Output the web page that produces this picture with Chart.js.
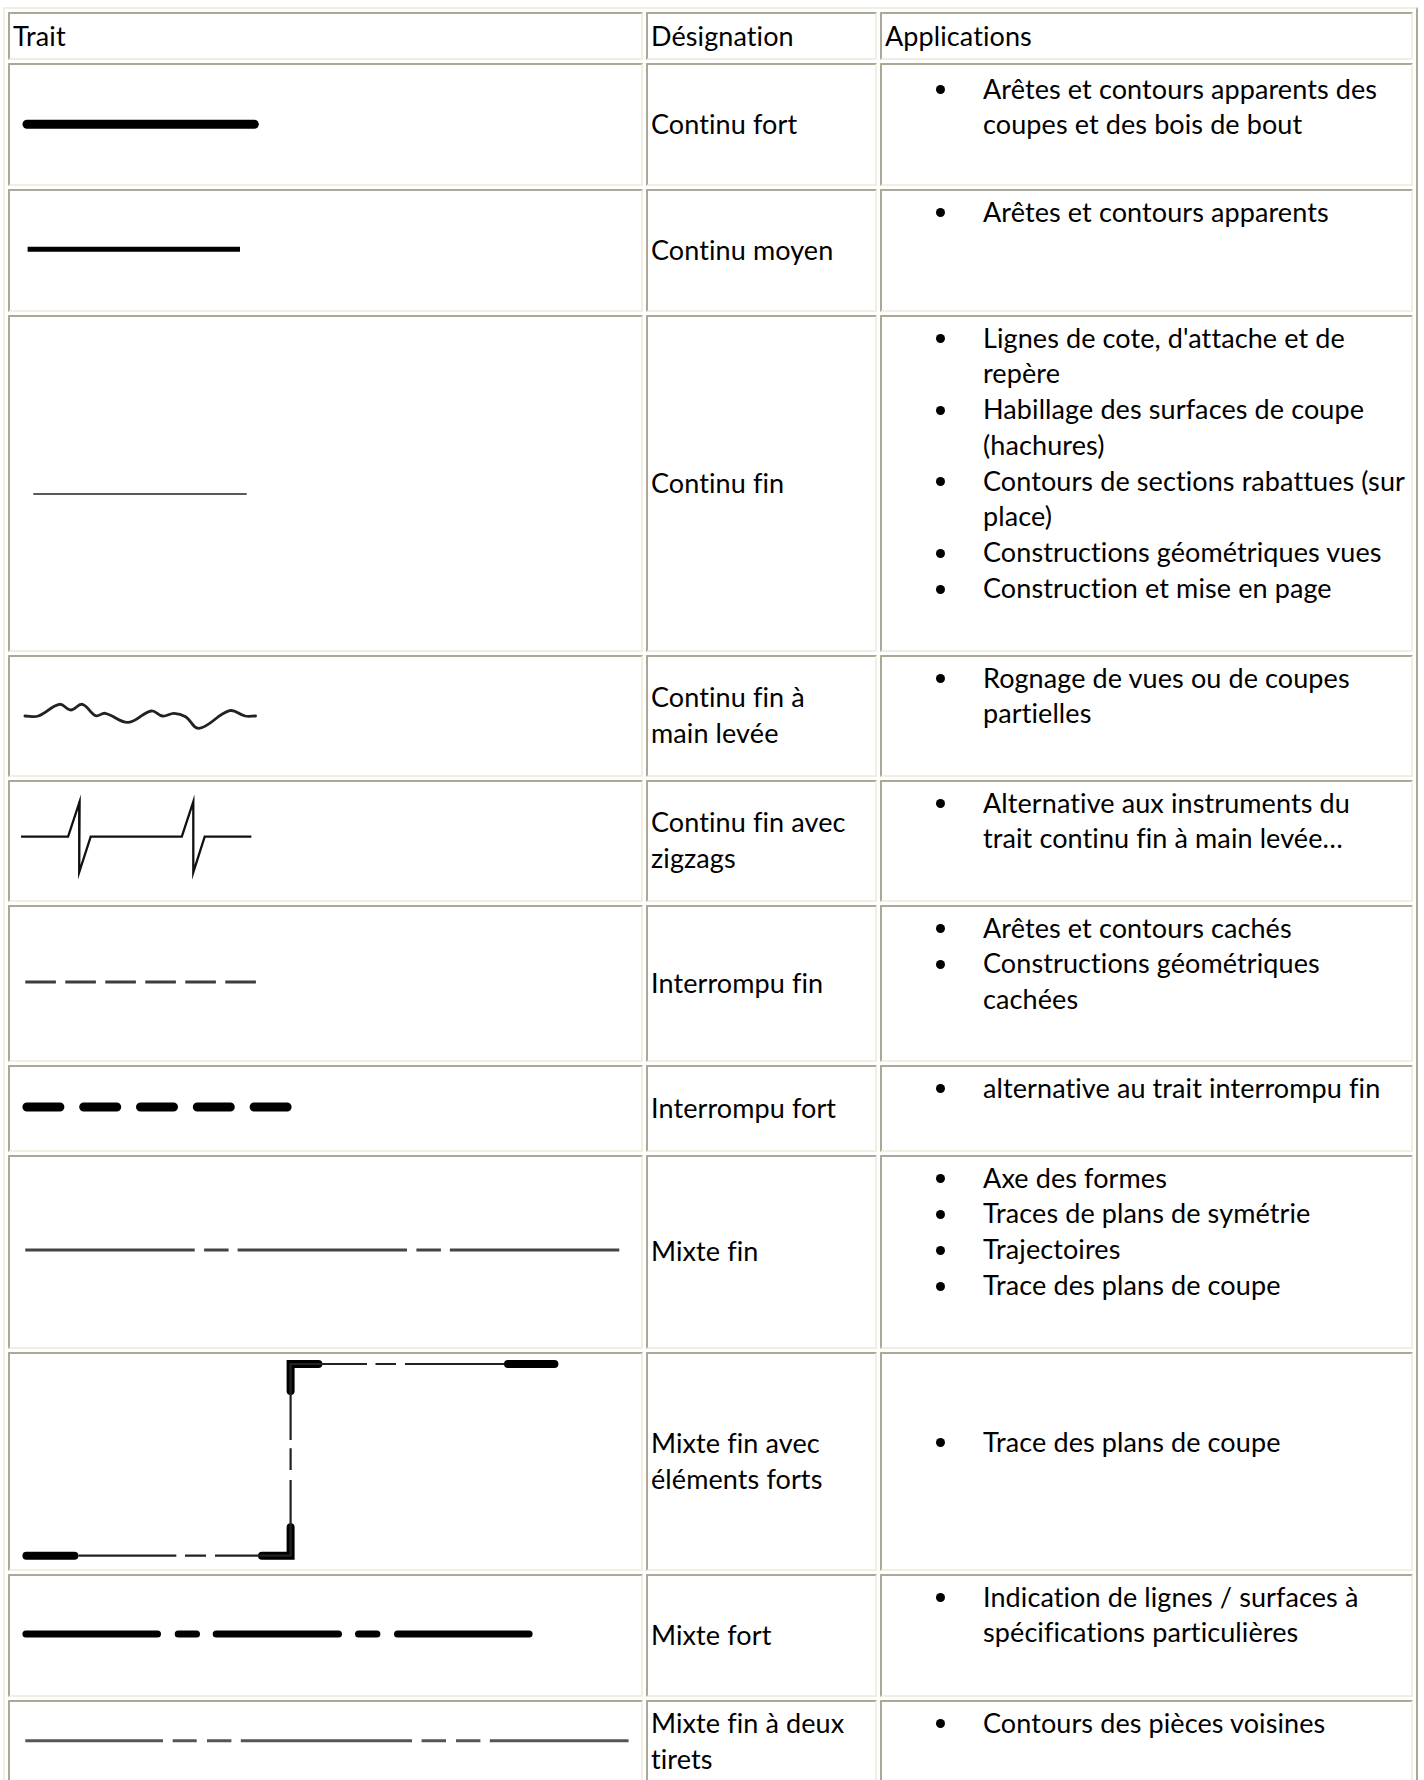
<!DOCTYPE html>
<html lang="fr">
<head>
<meta charset="utf-8">
<title>Types de traits</title>
<script src="https://cdn.jsdelivr.net/npm/chart.js@4.4.1/dist/chart.umd.min.js"></script>
<style>
  body {
    margin: 0;
    background: #fff;
    font-family: Lato, "Open Sans", sans-serif;
    font-size: 27px;
    letter-spacing: 0.1px;
    line-height: 35.8px;
    color: #000;
  }
  table {
    position: absolute;
    left: 3px;
    top: 7px;
    width: 1415px;
    table-layout: fixed;
    border-collapse: separate;
    border-spacing: 3px;
    border: 2px solid;
    border-color: #f1efe2 #aca899 #aca899 #f1efe2;
  }
  td {
    box-sizing: border-box;
    border: 2px solid;
    border-color: #aca899 #f1efe2 #f1efe2 #aca899;
    padding: 0 3px 2px 3px;
    vertical-align: middle;
    white-space: pre;
  }
  td.trait {
    padding: 0;
    position: relative;
  }
  td.trait .box {
    position: absolute;
    left: 0;
    top: 0;
    right: 0;
    bottom: 0;
  }
  td.app {
    vertical-align: top;
    padding-top: 2.5px;
  }
  ul {
    margin: 0;
    padding: 0 0 0 98px;
    list-style: none;
  }
  li {
    position: relative;
  }
  li::before {
    content: "";
    position: absolute;
    left: -47px;
    top: 14.8px;
    width: 9px;
    height: 9px;
    border-radius: 50%;
    background: #000;
  }
</style>
</head>
<body>
<table id="tbl"></table>
<script>
// ---- texte du tableau ----
const headers = ["Trait", "Désignation", "Applications"];
const designations = [
  "Continu fort",
  "Continu moyen",
  "Continu fin",
  "Continu fin à\nmain levée",
  "Continu fin avec\nzigzags",
  "Interrompu fin",
  "Interrompu fort",
  "Mixte fin",
  "Mixte fin avec\néléments forts",
  "Mixte fort",
  "Mixte fin à deux\ntirets",
];
const applications = [
  ["Arêtes et contours apparents des\ncoupes et des bois de bout"],
  ["Arêtes et contours apparents"],
  [
    "Lignes de cote, d'attache et de\nrepère",
    "Habillage des surfaces de coupe\n(hachures)",
    "Contours de sections rabattues (sur\nplace)",
    "Constructions géométriques vues",
    "Construction et mise en page",
  ],
  ["Rognage de vues ou de coupes\npartielles"],
  ["Alternative aux instruments du\ntrait continu fin à main levée…"],
  ["Arêtes et contours cachés", "Constructions géométriques\ncachées"],
  ["alternative au trait interrompu fin"],
  ["Axe des formes", "Traces de plans de symétrie", "Trajectoires", "Trace des plans de coupe"],
  ["Trace des plans de coupe"],
  ["Indication de lignes / surfaces à\nspécifications particulières"],
  ["Contours des pièces voisines"],
];

// ---- tracés (x, y dans la cellule "Trait", y vers le bas) ----
const continuFortX = [17, 244.3];
const continuFortY = [59.3, 59.3];

const continuMoyenX = [17.6, 230];
const continuMoyenY = [58.3, 58.3];

const continuFinX = [23.3, 236.7];
const continuFinY = [177, 177];

const mainLeveeX = [14.9, 28.3, 49.3, 60.8, 72.3, 85.7, 95.2, 118.2, 141.2, 152.6, 164.1, 175.6, 189, 219.6, 235, 245.6];
const mainLeveeY = [59, 59, 47.3, 53, 47.3, 58.7, 56.3, 65.3, 54, 59, 56.3, 59.7, 71.3, 53.7, 59, 59];

const zigzagX = [11, 58.1, 69.6, 69.2, 80.7, 171.8, 183.3, 183.3, 194.7, 241.4];
const zigzagY = [54.7, 54.7, 19.7, 90.3, 54.7, 54.7, 19.7, 90.3, 54.7, 54.7];

const interFinX = [15.3, 246];
const interFinY = [75, 75];

const interFortX = [16.9, 277.5];
const interFortY = [40, 40];

const mixteFinX = [15.3, 609.6];
const mixteFinY = [93, 93];

// mixte fin avec éléments forts : partie fine puis parties fortes (null = coupure)
const elemFinX = [68.4, 166.3, 170, 175, 196, 200, 205, 280.6, 280.6, 280.6, 280.6, 280.6, 280.6, 280.6, 280.6, 357, 361, 365.5, 386, 390, 395, 494];
const elemFinY = [201.7, 201.7, null, 201.7, 201.7, null, 201.7, 201.7, 126, null, 116, 94.3, null, 86, 10, 10, null, 10, 10, null, 10, 10];
const elemFortX = [16.4, 64.4, 66, 252, 280.6, 280.6, 280.6, 280.6, 280.6, 308.4, 400, 498, 544.4];
const elemFortY = [201.7, 201.7, null, 201.7, 201.7, 173.3, null, 37, 10, 10, null, 10, 10];

const mixteFortX = [15.9, 147.5, 150, 168.2, 186.5, 190, 206.2, 328.5, 330, 348.5, 366.9, 370, 387.5, 519.1];
const mixteFortY = [58, 58, null, 58, 58, null, 58, 58, null, 58, 58, null, 58, 58];

const deuxTiretsX = [15.3, 153, 158, 162.7, 186.7, 190, 197, 221.4, 225, 230.8, 402, 405, 411.6, 436, 440, 446, 470.4, 475, 479.8, 618.6];
const deuxTiretsY = [38.7, 38.7, null, 38.7, 38.7, null, 38.7, 38.7, null, 38.7, 38.7, null, 38.7, 38.7, null, 38.7, 38.7, null, 38.7, 38.7];

// ---- mise en page ----
const colWidths = [635, 231, 533];
const rowHeights = [123, 123, 337, 122, 122, 157, 87, 194, 219, 123, 84];
const headerHeight = 48;
const appPadTop = { 0: 5.5, 8: 69.5 };

const toPoints = (xs, ys) => xs.map((x, i) => ({ x: x, y: ys[i] }));

const samples = [
  [{ x: continuFortX, y: continuFortY, width: 9, color: "#000", cap: "round" }],
  [{ x: continuMoyenX, y: continuMoyenY, width: 5, color: "#000" }],
  [{ x: continuFinX, y: continuFinY, width: 1.7, color: "#222" }],
  [{ x: mainLeveeX, y: mainLeveeY, width: 2.8, color: "#222", tension: 0.4, cap: "round" }],
  [{ x: zigzagX, y: zigzagY, width: 2.3, color: "#111" }],
  [{ x: interFinX, y: interFinY, width: 3, color: "#3c3c3c", dash: [30.6, 9.4] }],
  [{ x: interFortX, y: interFortY, width: 9, color: "#000", cap: "round", dash: [33, 23.8] }],
  [{ x: mixteFinX, y: mixteFinY, width: 3, color: "#444", dash: [169.4, 9.4, 24.5, 9] }],
  [
    { x: elemFinX, y: elemFinY, width: 2.2, color: "#222" },
    { x: elemFortX, y: elemFortY, width: 8, color: "#000", cap: "round" },
  ],
  [{ x: mixteFortX, y: mixteFortY, width: 7, color: "#000", cap: "round" }],
  [{ x: deuxTiretsX, y: deuxTiretsY, width: 3, color: "#555" }],
];

// ---- construction du tableau ----
const tbl = document.getElementById("tbl");

const head = tbl.insertRow();
head.style.height = headerHeight + "px";
headers.forEach((h, i) => {
  const td = head.insertCell();
  td.style.width = colWidths[i] + "px";
  td.style.paddingBottom = "0";
  td.textContent = h;
});

const boxes = [];
designations.forEach((d, r) => {
  const tr = tbl.insertRow();
  tr.style.height = rowHeights[r] + "px";

  const tdTrait = tr.insertCell();
  tdTrait.className = "trait";
  const box = document.createElement("div");
  box.className = "box";
  const canvas = document.createElement("canvas");
  box.appendChild(canvas);
  tdTrait.appendChild(box);
  boxes.push(canvas);

  const tdDes = tr.insertCell();
  tdDes.textContent = d;

  const tdApp = tr.insertCell();
  tdApp.className = "app";
  if (appPadTop[r] !== undefined) tdApp.style.paddingTop = appPadTop[r] + "px";
  const ul = document.createElement("ul");
  applications[r].forEach((a) => {
    const li = document.createElement("li");
    li.textContent = a;
    ul.appendChild(li);
  });
  tdApp.appendChild(ul);
});

// ---- un petit graphique par trait ----
samples.forEach((sample, r) => {
  const w = colWidths[0] - 4;
  const h = rowHeights[r] - 4;
  new Chart(boxes[r], {
    type: "line",
    data: {
      datasets: sample.map((s) => ({
        data: toPoints(s.x, s.y),
        borderColor: s.color,
        borderWidth: s.width,
        borderDash: s.dash || [],
        borderCapStyle: s.cap || "butt",
        borderJoinStyle: "miter",
        tension: s.tension || 0,
        pointRadius: 0,
        fill: false,
        spanGaps: false,
      })),
    },
    options: {
      responsive: true,
      maintainAspectRatio: false,
      animation: false,
      events: [],
      layout: { padding: 0 },
      plugins: {
        legend: { display: false },
        tooltip: { enabled: false },
      },
      scales: {
        x: { type: "linear", min: 0, max: w, display: false },
        y: { type: "linear", min: 0, max: h, reverse: true, display: false },
      },
    },
  });
});
</script>
</body>
</html>
